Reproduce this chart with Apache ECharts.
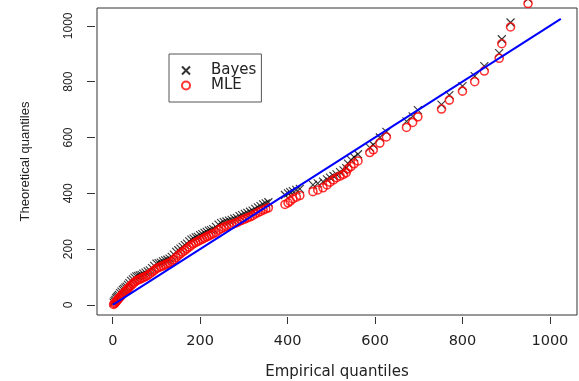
<!DOCTYPE html>
<html>
<head>
<meta charset="utf-8">
<script src="https://cdn.jsdelivr.net/npm/echarts@6/dist/echarts.min.js"></script>
<style>html,body{margin:0;padding:0;background:#fff;}#c{width:579px;height:381px;}</style>
</head>
<body>
<div id="c"></div>
<script>
// Empirical quantiles (x)
const empirical = [2,4,6,8,10,12,14,17,20,23,26,29,32,35,38,42,46,50,54,58,62,66,70,75,80,85,90,95,100,105,110,115,120,125,130,135,140,145,150,155,160,165,170,175,180,185,190,195,200,205,210,215,220,225,230,236,242,248,254,260,266,272,278,284,290,296,302,308,314,320,326,332,338,344,350,356,
  394,401,406,412,420,428,458,469,481,490,497,505,512,520,528,534,538,545,552,561,588,596,611,626,672,686,698,752,770,800,828,850,884,890,910,950];
// Theoretical quantiles, Bayes
const bayes = [8,14,18,24,28,32,36,42,48,54,58,62,66,72,78,86,92,98,102,104,106,108,112,116,120,124,132,140,148,150,152,156,160,162,166,172,180,190,196,202,208,214,220,228,234,238,242,244,250,254,258,262,266,268,272,280,288,293,297,299,302,305,309,312,318,322,326,330,334,338,344,350,354,360,364,368,
  394,400,404,408,412,416,430,436,442,450,456,462,468,476,482,490,506,520,530,540,564,574,600,620,658,676,698,718,752,784,820,856,902,952,1012,1098];
// Theoretical quantiles, MLE
const mle = [2,5,8,12,16,20,24,28,34,40,44,48,54,58,64,70,76,82,86,90,92,96,98,102,106,112,118,124,130,134,138,140,144,148,150,156,162,170,178,184,190,196,202,208,214,220,224,228,232,236,240,244,248,252,256,260,268,274,278,282,286,288,292,295,300,304,308,312,316,320,326,331,335,340,344,348,
  360,366,372,380,386,392,406,412,420,430,440,448,456,462,468,474,488,496,506,516,546,556,580,602,636,654,674,702,734,766,800,838,884,936,996,1080];
// Reference line y = x
const refLine = [0, 1025];
const xTicks = [0,200,400,600,800,1000];
const yTicks = [0,200,400,600,800,1000];

const chart = echarts.init(document.getElementById('c'));
const wide = 'DejaVu Sans, Verdana, sans-serif';
const narrow = 'Liberation Sans, Arial, Helvetica, sans-serif';
chart.setOption({
  animation: false,
  backgroundColor: '#fff',
  textStyle: {fontFamily: wide},
  grid: {left: 97, right: 2, top: 8, bottom: 66, show: true, borderColor: '#333', borderWidth: 1,
    containLabel: false, outerBoundsMode: 'none'},
  legend: {
    orient: 'vertical', left: 169, top: 54,
    padding: [9, 5, 9, 12], itemGap: 0,
    itemWidth: 8, itemHeight: 8,
    borderColor: '#555', borderWidth: 1,
    textStyle: {fontSize: 15, lineHeight: 13, color: '#222', fontFamily: wide, padding: [0,0,0,16]},
    data: ['Bayes', 'MLE']
  },
  xAxis: {
    type: 'value', min: -36, max: 1062, offset: 2,
    name: 'Empirical quantiles', nameLocation: 'middle', nameGap: 48,
    nameTextStyle: {fontSize: 15, color: '#222', fontFamily: wide},
    axisLine: {show: false, onZero: false},
    axisTick: {show: true, inside: false, length: 7, customValues: xTicks, lineStyle: {color: '#333'}},
    axisLabel: {customValues: xTicks, fontSize: 14.5, color: '#222', margin: 17, fontFamily: wide,
      formatter: v => String(v)},
    splitLine: {show: false}
  },
  yAxis: {
    type: 'value', min: -36, max: 1064, offset: 2,
    name: 'Theoretical quantiles', nameLocation: 'middle', nameGap: 63, nameRotate: 90,
    nameTextStyle: {fontSize: 13, color: '#222', fontFamily: narrow},
    axisLine: {show: false, onZero: false},
    axisTick: {show: true, inside: false, length: 8, customValues: yTicks, lineStyle: {color: '#333'}},
    axisLabel: {customValues: yTicks, fontSize: 12, color: '#222', margin: 20, rotate: 90, fontFamily: narrow,
      formatter: v => String(v)},
    splitLine: {show: false}
  },
  series: [
    {
      name: 'Bayes', type: 'scatter', clip: false, z: 2,
      symbol: 'path://M0,0L10,10M10,0L0,10', symbolSize: 8,
      itemStyle: {color: 'transparent', borderColor: '#000', borderWidth: 1.1},
      data: empirical.map((v, i) => [v, bayes[i]])
    },
    {
      name: 'MLE', type: 'scatter', clip: false, z: 3,
      symbol: 'circle', symbolSize: 8,
      itemStyle: {color: 'transparent', borderColor: '#ff0000', borderWidth: 1.6},
      data: empirical.map((v, i) => [v, mle[i]])
    },
    {
      name: 'ref', type: 'line', z: 4, symbol: 'none',
      lineStyle: {color: '#0000ff', width: 2},
      data: refLine.map(v => [v, v])
    }
  ]
});
</script>
</body>
</html>
